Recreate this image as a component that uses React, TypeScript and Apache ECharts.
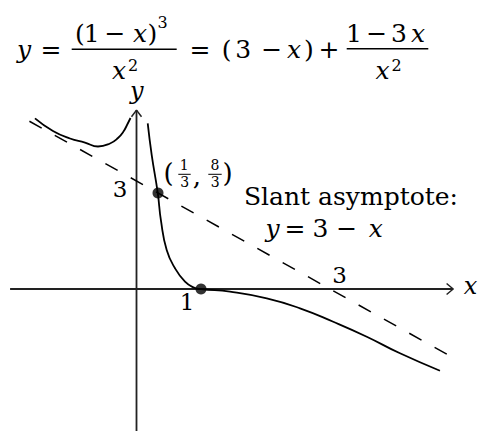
import React, { useEffect, useRef } from "react";
import * as echarts from "echarts";

// ---- data (data units) ----
const leftBranchX = [-1.574, -1.295, -1.031, -0.798, -0.597, -0.411, -0.287, -0.202, -0.147, -0.093];
const leftBranchY = [4.74, 4.389, 4.181, 4.069, 3.958, 4.042, 4.194, 4.375, 4.556, 4.75];

const rightBranchX = [0.174, 0.236, 0.329, 0.38, 0.468, 0.597, 0.752, 0.881, 1, 1.45, 2.02, 2.535, 3.05, 3.57, 4.085, 4.705];
const rightBranchY = [4.6, 3.72, 2.675, 1.89, 1.083, 0.575, 0.203, 0.047, 0, -0.075, -0.26, -0.536, -0.91, -1.325, -1.786, -2.27];

const asymptoteX = [-1.66, 4.81];
const asymptoteY = [4.66, -1.81];

const keyPointsX = [1 / 3, 1];
const keyPointsY = [8 / 3, 0];

const xAxisSpan = [-1.96, 4.91];
const yAxisSpan = [-3.95, 4.97];

// ---- layout (pixels) ----
const W = 478;
const H = 431;
const OX = 136.5; // pixel of x = 0
const UX = 64.5; // pixels per x unit
const OY = 289; // pixel of y = 0
const UY = 36; // pixels per y unit

const FAMILY = "DejaVu Serif";

const zip = (xs: number[], ys: number[]) => xs.map((x, i) => [x, ys[i]]);

function txt(text: string, x: number, y: number, size = 25, italic = false) {
  return {
    type: "text",
    silent: true,
    style: {
      text,
      x,
      y,
      fill: "#000",
      fontFamily: FAMILY,
      fontSize: size,
      fontStyle: italic ? "italic" : "normal",
      fontWeight: "normal",
      textAlign: "center",
      textVerticalAlign: "middle",
      align: "center",
      verticalAlign: "middle",
    },
  };
}

function bar(x1: number, x2: number, y: number, w = 1.5) {
  return {
    type: "line",
    silent: true,
    shape: { x1, y1: y, x2, y2: y },
    style: { stroke: "#000", lineWidth: w },
  };
}

export default function App() {
  const ref = useRef<HTMLDivElement>(null);

  useEffect(() => {
    document.body.style.margin = "0";
    const chart = echarts.init(ref.current!, undefined, { renderer: "svg" });

    const F = 25;
    const S = 16;
    const T = 23;
    const midMain = 49.6;
    const midNum = 33.6;
    const midDen = 70.3;
    const supNum = 22.6;
    const supDen = 65.2;

    const graphics: any[] = [
      // formula
      txt("y", 24, midMain, F, true),
      txt("=", 51, midMain, F),
      txt("(", 80, midNum, F),
      txt("1", 91.7, midNum, F),
      txt("\u2212", 115, midNum, F),
      txt("x", 140, midNum, F, true),
      txt(")", 152.5, midNum, F),
      txt("3", 162.5, supNum, S),
      bar(71.7, 176.7, 49.3),
      txt("x", 119, midDen, F, true),
      txt("2", 133, supDen, S),
      txt("=", 200, midMain, F),
      txt("(", 226.7, midMain, F),
      txt("3", 243.3, midMain, F),
      txt("\u2212", 271.7, midMain, F),
      txt("x", 294, midMain, F, true),
      txt(")", 309, midMain, F),
      txt("+", 329, midMain, F),
      txt("1", 354, midNum, F),
      txt("\u2212", 376.7, midNum, F),
      txt("3", 399, midNum, F),
      txt("x", 418, midNum, F, true),
      bar(346.7, 428.3, 48.8),
      txt("x", 382.5, midDen, F, true),
      txt("2", 396.7, supDen, S),

      // axis names and ticks
      txt("y", 136.7, 91, 24, true),
      txt("x", 470.5, 286.4, 24, true),
      txt("3", 120, 188.5, T),
      txt("1", 187, 302, T),
      txt("3", 339.5, 275, T),

      // (1/3, 8/3)
      txt("(", 168.5, 173, 26),
      txt("1", 184.2, 165, 14),
      bar(178.3, 190.7, 174.3, 1),
      txt("3", 184.7, 182, 14),
      txt(",", 197, 176, 26),
      txt("8", 215, 165, 14),
      bar(208.3, 221.7, 174.3, 1),
      txt("3", 215.3, 182, 14),
      txt(")", 227.5, 173, 26),

      // slant asymptote label
      txt("Slant asymptote:", 351, 196, 25),
      txt("y", 272.5, 228, 25, true),
      txt("=", 295, 228, 25),
      txt("3", 320.5, 228, 25),
      txt("\u2212", 346.7, 228, 25),
      txt("x", 375.8, 228, 25, true),
    ];

    const arrowX = [
      [xAxisSpan[1] - 6.6 / UX, 5.5 / UY],
      [xAxisSpan[1], 0],
      [xAxisSpan[1] - 6.6 / UX, -5.5 / UY],
    ];
    const arrowY = [
      [-5 / UX, yAxisSpan[1] - 6.7 / UY],
      [0, yAxisSpan[1]],
      [5 / UX, yAxisSpan[1] - 6.7 / UY],
    ];

    const axisStyle = { color: "#222", width: 1.8 };
    const lineBase = {
      type: "line",
      symbol: "none",
      silent: true,
      clip: false,
    };

    chart.setOption({
      animation: false,
      backgroundColor: "#fff",
      grid: { left: 0, right: 0, top: 0, bottom: 0, containLabel: false },
      xAxis: {
        type: "value",
        min: -OX / UX,
        max: (W - OX) / UX,
        show: false,
      },
      yAxis: {
        type: "value",
        min: -(H - OY) / UY,
        max: OY / UY,
        show: false,
      },
      series: [
        {
          ...lineBase,
          name: "x-axis",
          data: [
            [xAxisSpan[0], 0],
            [xAxisSpan[1], 0],
          ],
          lineStyle: axisStyle,
          z: 1,
        },
        { ...lineBase, name: "x-arrow", data: arrowX, lineStyle: { color: "#222", width: 1.5 }, z: 1 },
        {
          ...lineBase,
          name: "y-axis",
          data: [
            [0, yAxisSpan[0]],
            [0, yAxisSpan[1]],
          ],
          lineStyle: axisStyle,
          z: 1,
        },
        { ...lineBase, name: "y-arrow", data: arrowY, lineStyle: { color: "#222", width: 1.5 }, z: 1 },
        {
          ...lineBase,
          name: "asymptote",
          data: zip(asymptoteX, asymptoteY),
          lineStyle: { color: "#000", width: 1.5, type: [14, 15] },
          z: 2,
        },
        {
          ...lineBase,
          name: "left",
          data: zip(leftBranchX, leftBranchY),
          smooth: 0.5,
          lineStyle: { color: "#000", width: 1.8 },
          z: 3,
        },
        {
          ...lineBase,
          name: "right",
          data: zip(rightBranchX, rightBranchY),
          smooth: 0.5,
          lineStyle: { color: "#000", width: 1.8 },
          z: 3,
        },
        {
          type: "scatter",
          name: "points",
          data: zip(keyPointsX, keyPointsY),
          symbol: "circle",
          symbolSize: 11,
          itemStyle: { color: "#000" },
          silent: true,
          z: 4,
        },
      ],
      graphic: graphics,
    });

    return () => chart.dispose();
  }, []);

  return <div ref={ref} style={{ width: W, height: H }} />;
}
